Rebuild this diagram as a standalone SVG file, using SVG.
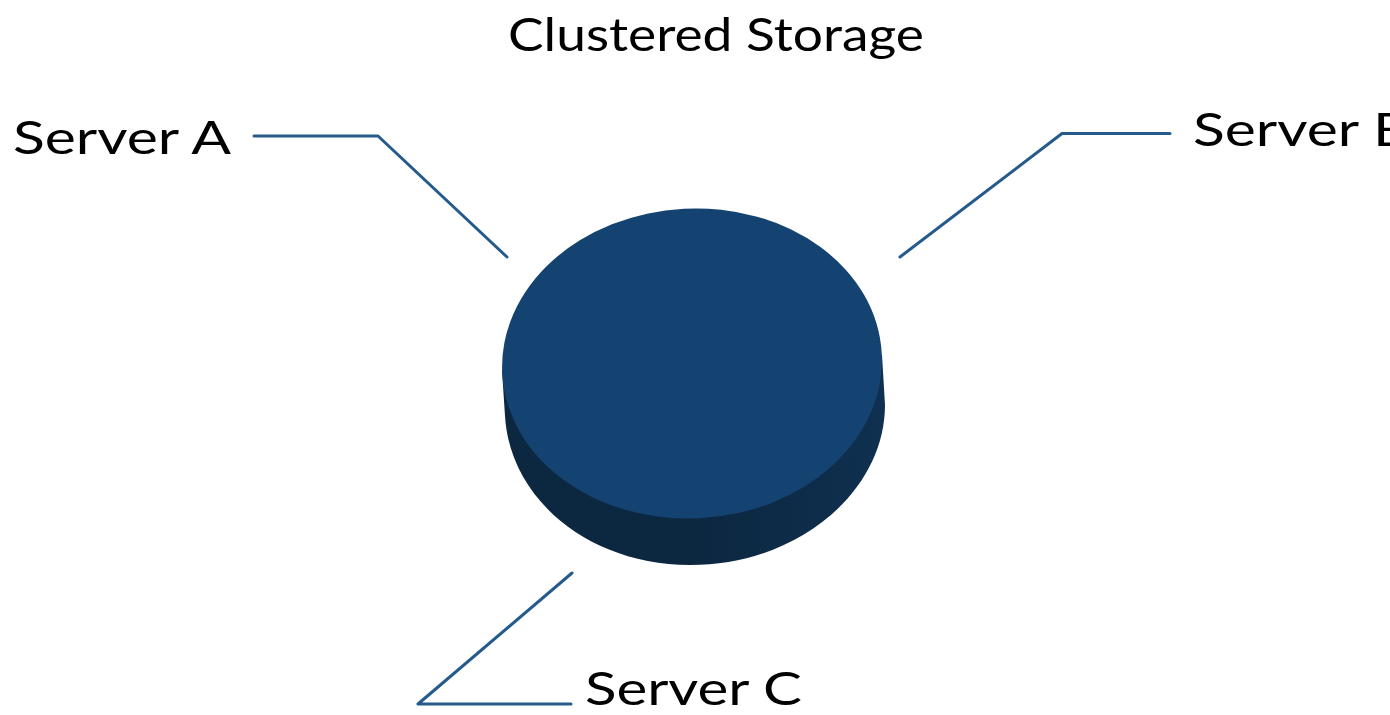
<svg xmlns="http://www.w3.org/2000/svg" width="1390" height="715" viewBox="0 0 1390 715">
<defs>
<linearGradient id="side" x1="502" y1="0" x2="885" y2="0" gradientUnits="userSpaceOnUse">
<stop offset="0" stop-color="#0c2740"/><stop offset="0.5" stop-color="#0c2740"/><stop offset="1" stop-color="#0f3050"/>
</linearGradient>
</defs>
<style>
.l{font-family:Lato,"Open Sans",sans-serif;font-size:46px;fill:#000;font-weight:400}
.c{fill:none;stroke:#255a8c;stroke-width:3;stroke-linecap:round;stroke-linejoin:round}
</style>
<rect width="1390" height="715" fill="#fff"/>
<g id="connectors">
<path class="c" d="M254 136H378L507 257"/>
<path class="c" d="M1170 133.500H1062L900 257"/>
<path class="c" d="M572 573L418 704H571"/>
</g>
<g id="storage">
<path fill="url(#side)" d="M502 370L505 416C510 500 590 565 690 565C800 565 885 490 885 405L882 355Z"/>
<ellipse cx="692" cy="363.500" rx="190" ry="155" fill="#154371" transform="rotate(-3 692 363.500)"/>
</g>
<g id="title"><text class="l" x="508" y="51" textLength="416" lengthAdjust="spacingAndGlyphs">Clustered Storage</text></g>
<g id="server-a"><text class="l" x="13" y="154" textLength="218" lengthAdjust="spacingAndGlyphs">Server A</text></g>
<g id="server-b"><text class="l" x="1193" y="146" textLength="218" lengthAdjust="spacingAndGlyphs">Server B</text></g>
<g id="server-c"><text class="l" x="585" y="705" textLength="217" lengthAdjust="spacingAndGlyphs">Server C</text></g>
</svg>
